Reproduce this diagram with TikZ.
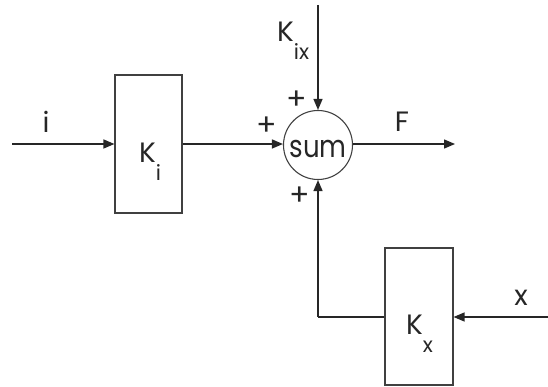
\documentclass[tikz,border=0pt]{standalone}
\usepackage{fontspec}
\setmainfont{Poppins}
\usetikzlibrary{arrows.meta}
\tikzset{
  blk/.style={draw=black!75, line width=1.1pt, minimum width=67pt, minimum height=138pt, inner sep=0pt},
  sumc/.style={draw=black!75, line width=1.1pt, circle, minimum size=69pt, inner sep=0pt},
  wire/.style={draw=black!85, line width=1.4pt},
  arr/.style={wire, -{Triangle[length=11pt,width=9pt]}},
  lbl/.style={inner sep=0pt, font=\fontsize{28}{28}\selectfont, text=black!85},
  sgn/.style={inner sep=0pt, font=\fontsize{30}{30}\selectfont, text=black!85},
}
\newcommand{\subtxt}[2]{#1\raisebox{-18pt}{\fontsize{21}{21}\selectfont #2}}
\begin{document}
\begin{tikzpicture}[x=1pt,y=1pt]
\useasboundingbox (0,0) rectangle (548,387);
\node[blk] (ki) at (148.5,243) {};
\node[blk, minimum width=68pt, minimum height=137pt] (kx) at (419,70.5) {};
\node[sumc] (sum) at (318,242) {};
\node[inner sep=0pt, font=\fontsize{31}{31}\selectfont, text=black!85] (sumtxt) at (318,238) {\scalebox{0.84}[1]{sum}};
\coordinate (inL) at (12,243);
\coordinate (top) at (318,382);
\coordinate (outF) at (455,243);
\coordinate (inX) at (548,70);
\coordinate (corner) at (318,70);
\draw[arr] (inL) -- (ki.west |- inL);
\draw[arr] (ki.east |- inL) -- (sum.west |- inL);
\draw[arr] (top) -- (sum.north);
\draw[arr] (sum.east |- inL) -- (outF);
\draw[arr] (inX) -- (kx.east |- inX);
\draw[wire] (kx.west |- inX) -- (corner);
\draw[arr] (corner) -- (sum.south);
\node[lbl, anchor=base west] (kilbl) at (139,224) {\subtxt{K}{i}};
\node[lbl, anchor=base west] (kxlbl) at (406,52) {\subtxt{K}{x}};
\node[lbl, anchor=base west] (kixlbl) at (277,345) {\subtxt{K}{ix}};
\node[lbl] (ilbl) at (46,265) {i};
\node[lbl] (flbl) at (402,265) {F};
\node[lbl] (xlbl) at (521,89) {x};
\node[sgn] (p1) at (297,287) {+};
\node[sgn] (p2) at (267,261) {+};
\node[sgn] (p3) at (300,191) {+};
\end{tikzpicture}
\end{document}
